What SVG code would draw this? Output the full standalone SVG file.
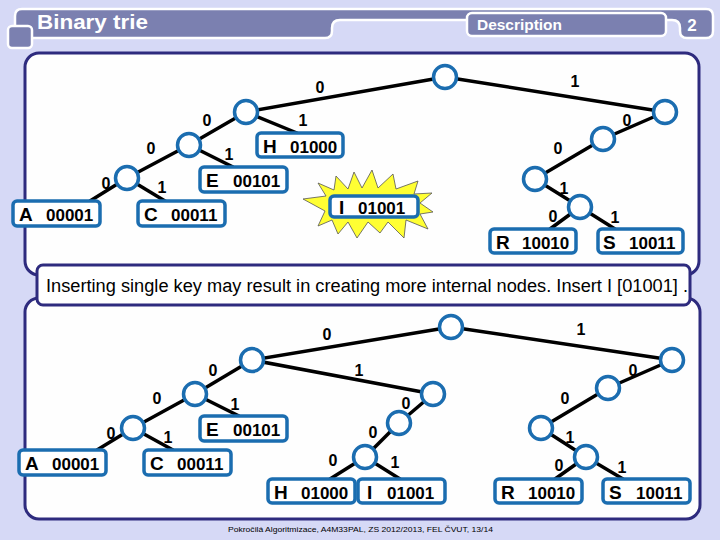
<svg xmlns="http://www.w3.org/2000/svg" width="720" height="540" viewBox="0 0 720 540">
<style>
.panel{fill:#fefefe;stroke:#2e2b7e;stroke-width:3}
.edge{stroke:#000;stroke-width:3.5;stroke-linecap:round}
.inner{fill:#fff;stroke:#1b6db0;stroke-width:3.5}
.leaf rect{fill:#fff;stroke:#1b6db0;stroke-width:3.5}
.leaf text{font-family:"Liberation Sans",Arial,sans-serif;font-weight:bold;fill:#000}
.lt{font-size:19px}
.dg{font-size:17px}
.lbl{font-family:"Liberation Sans",Arial,sans-serif;font-weight:bold;font-size:16px;fill:#000;text-anchor:middle}
.hdr{font-family:"Liberation Sans",Arial,sans-serif;font-weight:bold;fill:#fff}
</style>
<rect width="720" height="540" fill="#d6d9f6"/>
<g id="header">
<path d="M22,9 H706 Q713,9 713,16 V31 Q713,38 706,38 H687 Q680,38 680,31 V28 Q680,20 672,20 H340 Q332,20 332,28 V31 Q332,38 325,38 H22 Q15,38 15,31 V16 Q15,9 22,9 Z" fill="#7b80b0" stroke="#fff" stroke-width="2.5"/>
<rect x="8" y="26" width="24" height="22" rx="4" fill="#7b80b0" stroke="#fff" stroke-width="2.5"/>
<rect x="467" y="13" width="199" height="23" rx="5" fill="#7b80b0" stroke="#fff" stroke-width="2.5"/>
<text class="hdr" x="37" y="29" font-size="20" textLength="111" lengthAdjust="spacingAndGlyphs">Binary trie</text>
<text class="hdr" x="477" y="30" font-size="14" textLength="85" lengthAdjust="spacingAndGlyphs">Description</text>
<text class="hdr" x="692" y="31" font-size="17" text-anchor="middle">2</text>
</g>
<rect class="panel" x="25" y="53" width="674" height="222" rx="14"/>
<rect class="panel" x="25" y="298" width="675" height="221" rx="14"/>
<g id="note">
<rect x="37" y="265" width="653" height="40" rx="6" fill="#fff" stroke="#2e2b7e" stroke-width="3"/>
<text x="46" y="292" font-family="'Liberation Sans',Arial,sans-serif" font-size="18" textLength="642" lengthAdjust="spacingAndGlyphs">Inserting single key may result in creating more internal nodes. Insert I [01001] .</text>
</g>
<g id="connectors">
<line class="edge" x1="445" y1="77" x2="246" y2="112"/>
<line class="edge" x1="445" y1="77" x2="665" y2="112"/>
<line class="edge" x1="246" y1="112" x2="189" y2="145"/>
<line class="edge" x1="246" y1="112" x2="297" y2="133"/>
<line class="edge" x1="189" y1="145" x2="127" y2="178"/>
<line class="edge" x1="189" y1="145" x2="233" y2="167"/>
<line class="edge" x1="127" y1="178" x2="90" y2="201"/>
<line class="edge" x1="127" y1="178" x2="165" y2="201"/>
<line class="edge" x1="665" y1="112" x2="603" y2="139"/>
<line class="edge" x1="603" y1="139" x2="535" y2="179"/>
<line class="edge" x1="535" y1="179" x2="580" y2="207"/>
<line class="edge" x1="580" y1="207" x2="550" y2="229"/>
<line class="edge" x1="580" y1="207" x2="615" y2="229"/>
<line class="edge" x1="451" y1="327" x2="252" y2="360"/>
<line class="edge" x1="451" y1="327" x2="672" y2="360"/>
<line class="edge" x1="252" y1="360" x2="195" y2="394"/>
<line class="edge" x1="252" y1="360" x2="433" y2="394"/>
<line class="edge" x1="195" y1="394" x2="133" y2="428"/>
<line class="edge" x1="195" y1="394" x2="239" y2="416"/>
<line class="edge" x1="133" y1="428" x2="97" y2="450"/>
<line class="edge" x1="133" y1="428" x2="173" y2="450"/>
<line class="edge" x1="433" y1="394" x2="399" y2="423"/>
<line class="edge" x1="399" y1="423" x2="365" y2="457"/>
<line class="edge" x1="365" y1="457" x2="330" y2="479"/>
<line class="edge" x1="365" y1="457" x2="400" y2="479"/>
<line class="edge" x1="672" y1="360" x2="608" y2="388"/>
<line class="edge" x1="608" y1="388" x2="541" y2="428"/>
<line class="edge" x1="541" y1="428" x2="586" y2="457"/>
<line class="edge" x1="586" y1="457" x2="555" y2="479"/>
<line class="edge" x1="586" y1="457" x2="623" y2="479"/>
</g>
<g id="edge-labels">
<text class="lbl" x="320" y="93">0</text>
<text class="lbl" x="575" y="87">1</text>
<text class="lbl" x="207" y="126">0</text>
<text class="lbl" x="303" y="126">1</text>
<text class="lbl" x="151" y="154">0</text>
<text class="lbl" x="229" y="160">1</text>
<text class="lbl" x="106" y="189">0</text>
<text class="lbl" x="162" y="193">1</text>
<text class="lbl" x="627" y="126">0</text>
<text class="lbl" x="558" y="154">0</text>
<text class="lbl" x="564" y="194">1</text>
<text class="lbl" x="553" y="222">0</text>
<text class="lbl" x="615" y="223">1</text>
<text class="lbl" x="327" y="340">0</text>
<text class="lbl" x="581" y="335">1</text>
<text class="lbl" x="213" y="376">0</text>
<text class="lbl" x="359" y="376">1</text>
<text class="lbl" x="157" y="404">0</text>
<text class="lbl" x="235" y="410">1</text>
<text class="lbl" x="111" y="439">0</text>
<text class="lbl" x="168" y="443">1</text>
<text class="lbl" x="406" y="409">0</text>
<text class="lbl" x="373" y="438">0</text>
<text class="lbl" x="333" y="466">0</text>
<text class="lbl" x="395" y="468">1</text>
<text class="lbl" x="633" y="376">0</text>
<text class="lbl" x="565" y="404">0</text>
<text class="lbl" x="570" y="443">1</text>
<text class="lbl" x="559" y="471">0</text>
<text class="lbl" x="622" y="473">1</text>
</g>
<g id="star">
<polygon points="303,199 326,196 318,183 334,190 336,176 348,189 354,172 362,188 372,170 378,188 393,174 396,189 418,181 414,194 432,193 420,203 433,212 420,214 428,229 406,220 404,238 388,222 380,233 368,222 357,238 348,222 338,234 332,220 318,226 325,211" fill="#ffff33" stroke="#555" stroke-width="0.8"/>
</g>
<g id="top-inner">
<circle class="inner" id="t-root" cx="445" cy="77" r="11.5"/>
<circle class="inner" id="t-0" cx="246" cy="112" r="11.5"/>
<circle class="inner" id="t-00" cx="189" cy="145" r="11.5"/>
<circle class="inner" id="t-000" cx="127" cy="178" r="11.5"/>
<circle class="inner" id="t-1" cx="665" cy="112" r="11.5"/>
<circle class="inner" id="t-10" cx="603" cy="139" r="11.5"/>
<circle class="inner" id="t-100" cx="535" cy="179" r="11.5"/>
<circle class="inner" id="t-1001" cx="580" cy="207" r="11.5"/>
</g>
<g id="t-A" class="leaf"><rect x="13" y="201" width="87" height="25" rx="4"/><text y="221"><tspan class="lt" x="19">A</tspan><tspan class="dg" x="46">00001</tspan></text></g>
<g id="t-C" class="leaf"><rect x="138" y="201" width="87" height="25" rx="4"/><text y="221"><tspan class="lt" x="144">C</tspan><tspan class="dg" x="171">00011</tspan></text></g>
<g id="t-E" class="leaf"><rect x="200" y="167" width="87" height="25" rx="4"/><text y="187"><tspan class="lt" x="206">E</tspan><tspan class="dg" x="233">00101</tspan></text></g>
<g id="t-H" class="leaf"><rect x="257" y="133" width="86" height="24" rx="4"/><text y="153"><tspan class="lt" x="263">H</tspan><tspan class="dg" x="290">01000</tspan></text></g>
<g id="t-I" class="leaf"><rect x="330" y="196" width="88" height="21" rx="4"/><text y="214"><tspan class="lt" x="339">I</tspan><tspan class="dg" x="358">01001</tspan></text></g>
<g id="t-R" class="leaf"><rect x="490" y="229" width="86" height="24" rx="4"/><text y="249"><tspan class="lt" x="496">R</tspan><tspan class="dg" x="522">10010</tspan></text></g>
<g id="t-S" class="leaf"><rect x="598" y="229" width="85" height="24" rx="4"/><text y="249"><tspan class="lt" x="603">S</tspan><tspan class="dg" x="629">10011</tspan></text></g>
<g id="bottom-inner">
<circle class="inner" id="b-root" cx="451" cy="327" r="11.5"/>
<circle class="inner" id="b-0" cx="252" cy="360" r="11.5"/>
<circle class="inner" id="b-00" cx="195" cy="394" r="11.5"/>
<circle class="inner" id="b-000" cx="133" cy="428" r="11.5"/>
<circle class="inner" id="b-01" cx="433" cy="394" r="11.5"/>
<circle class="inner" id="b-010" cx="399" cy="423" r="11.5"/>
<circle class="inner" id="b-0100" cx="365" cy="457" r="11.5"/>
<circle class="inner" id="b-1" cx="672" cy="360" r="11.5"/>
<circle class="inner" id="b-10" cx="608" cy="388" r="11.5"/>
<circle class="inner" id="b-100" cx="541" cy="428" r="11.5"/>
<circle class="inner" id="b-1001" cx="586" cy="457" r="11.5"/>
</g>
<g id="b-A" class="leaf"><rect x="19" y="450" width="87" height="25" rx="4"/><text y="470"><tspan class="lt" x="25">A</tspan><tspan class="dg" x="52">00001</tspan></text></g>
<g id="b-C" class="leaf"><rect x="144" y="450" width="87" height="25" rx="4"/><text y="470"><tspan class="lt" x="150">C</tspan><tspan class="dg" x="177">00011</tspan></text></g>
<g id="b-E" class="leaf"><rect x="200" y="416" width="87" height="25" rx="4"/><text y="436"><tspan class="lt" x="206">E</tspan><tspan class="dg" x="233">00101</tspan></text></g>
<g id="b-H" class="leaf"><rect x="268" y="479" width="87" height="24" rx="4"/><text y="499"><tspan class="lt" x="274">H</tspan><tspan class="dg" x="301">01000</tspan></text></g>
<g id="b-I" class="leaf"><rect x="358" y="479" width="87" height="24" rx="4"/><text y="499"><tspan class="lt" x="367">I</tspan><tspan class="dg" x="387">01001</tspan></text></g>
<g id="b-R" class="leaf"><rect x="495" y="479" width="87" height="24" rx="4"/><text y="499"><tspan class="lt" x="501">R</tspan><tspan class="dg" x="528">10010</tspan></text></g>
<g id="b-S" class="leaf"><rect x="603" y="479" width="87" height="24" rx="4"/><text y="499"><tspan class="lt" x="609">S</tspan><tspan class="dg" x="636">10011</tspan></text></g>
<text x="228" y="532" font-family="'Liberation Sans',Arial,sans-serif" font-size="8" textLength="265" lengthAdjust="spacingAndGlyphs">Pokročilá Algoritmizace, A4M33PAL, ZS 2012/2013, FEL ČVUT, 13/14</text>
</svg>
